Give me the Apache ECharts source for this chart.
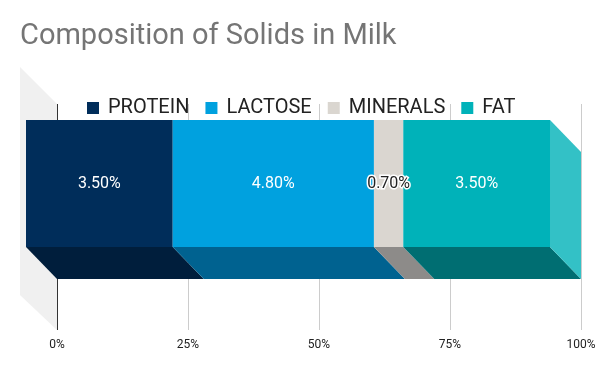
<!DOCTYPE html>
<html>
<head>
<meta charset="utf-8">
<script src="https://cdn.jsdelivr.net/npm/echarts@6/dist/echarts.min.js"></script>
<style>
html,body{margin:0;padding:0;background:#fff;}
#chart{width:600px;height:371px;}
</style>
</head>
<body>
<div id="chart"></div>
<script>
// ---- data ----
const categories = ['Milk'];
const seriesNames = ['PROTEIN', 'LACTOSE', 'MINERALS', 'FAT'];
const values = [3.5, 4.8, 0.7, 3.5];
const tickValues = [0, 25, 50, 75, 100];

// ---- styles ----
const frontColors = ['#002d5a', '#00a1df', '#dad6d0', '#00b2b9'];
const bottomColors = ['#001e3c', '#006290', '#8d8b89', '#006e72'];
const sideColor = '#33c1c6';
const labelColors = ['#ffffff', '#ffffff', '#222222', '#ffffff'];
const labelBorders = [0, 0, 3, 0];
const DX = 31, DY = 32;
const BAR_RATIO = 0.562;
const Y_SHIFT = -1.5;

const total = values.reduce((a, b) => a + b, 0);
const starts = [];
let acc = 0;
values.forEach(v => { starts.push(acc); acc += v / total * 100; });

function geom(api) {
  const s = api.value(0), e = api.value(1);
  const p0 = api.coord([s, 0]);
  const p1 = api.coord([e, 0]);
  const band = api.size([0, 1])[1];
  const h = band * BAR_RATIO;
  const yc = p0[1] + Y_SHIFT;
  return { x0: p0[0], x1: p1[0], top: yc - h / 2, bot: yc + h / 2 };
}

function makeShapeSeries(i) {
  const isLast = i === values.length - 1;
  return {
    type: 'custom',
    name: seriesNames[i],
    z: 2,
    color: frontColors[i],
    data: [[starts[i], starts[i] + values[i] / total * 100, values[i]]],
    encode: { x: [0, 1], y: 2 },
    renderItem: function (params, api) {
      const g = geom(api);
      const children = [];
      children.push({
        type: 'polygon',
        shape: { points: [[g.x0 - DX, g.bot - DY], [g.x1 - DX, g.bot - DY], [g.x1, g.bot], [g.x0, g.bot]] },
        style: { fill: bottomColors[i] }
      });
      if (isLast) {
        children.push({
          type: 'polygon',
          shape: { points: [[g.x1 - DX, g.top - DY], [g.x1, g.top], [g.x1, g.bot], [g.x1 - DX, g.bot - DY]] },
          style: { fill: sideColor }
        });
      }
      children.push({
        type: 'rect',
        shape: { x: g.x0 - DX, y: g.top - DY, width: g.x1 - g.x0, height: g.bot - g.top },
        style: { fill: frontColors[i] }
      });
      return { type: 'group', children: children };
    }
  };
}

const labelSeries = {
  type: 'custom',
  name: 'labels',
  z: 5,
  silent: true,
  data: values.map((v, i) => [starts[i], starts[i] + v / total * 100, v, i]),
  encode: { x: [0, 1] },
  renderItem: function (params, api) {
    const g = geom(api);
    const i = api.value(3);
    return {
      type: 'text',
      style: {
        x: (g.x0 + g.x1) / 2 - DX,
        y: (g.top + g.bot) / 2 - DY,
        text: api.value(2).toFixed(2) + '%',
        fill: labelColors[i],
        stroke: labelBorders[i] ? '#ffffff' : null,
        lineWidth: labelBorders[i],
        font: '16px Roboto',
        align: 'center',
        verticalAlign: 'middle'
      }
    };
  }
};

const chart = echarts.init(document.getElementById('chart'), null, { renderer: 'canvas' });
chart.setOption({
  animation: false,
  backgroundColor: '#ffffff',
  textStyle: { fontFamily: 'Roboto' },
  title: {
    text: 'Composition of Solids in Milk',
    left: 15, top: 17,
    textStyle: { fontFamily: 'Roboto', fontSize: 29, fontWeight: 'normal', color: '#757575' }
  },
  legend: {
    data: seriesNames,
    left: 82, top: 93,
    itemWidth: 12, itemHeight: 12, itemGap: 16,
    icon: 'rect',
    textStyle: { fontFamily: 'Roboto', fontSize: 20, color: '#222222', padding: [0, 0, 0, 4] }
  },
  graphic: [{
    type: 'polygon',
    z: -1,
    shape: { points: [[20, 67], [57, 104], [57, 330], [20, 295]] },
    style: { fill: '#f0f0f0' },
    silent: true
  }],
  grid: { left: 57, right: 19, top: 104, bottom: 41 },
  xAxis: {
    type: 'value', min: tickValues[0], max: tickValues[tickValues.length - 1], interval: 25,
    axisLine: { show: false }, axisTick: { show: false },
    splitLine: { show: true, lineStyle: { color: ['#333333', '#cccccc', '#cccccc', '#cccccc', '#cccccc'], width: 1 } },
    axisLabel: { formatter: '{value}%', fontSize: 12, color: '#222222', margin: 9, fontFamily: 'Roboto' }
  },
  yAxis: { type: 'category', data: categories, show: false },
  series: seriesNames.map((n, i) => makeShapeSeries(i)).concat([labelSeries])
});
</script>
</body>
</html>
